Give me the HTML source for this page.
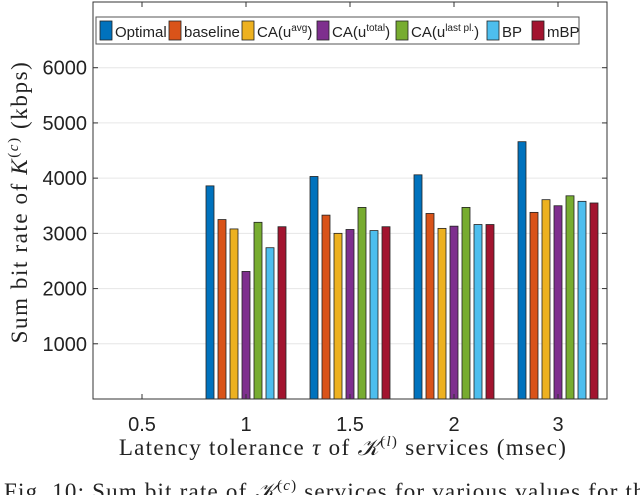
<!DOCTYPE html>
<html><head><meta charset="utf-8"><style>
html,body{margin:0;padding:0;background:#fff;width:640px;height:495px;overflow:hidden}
text{font-family:"Liberation Sans",sans-serif}
.serif{font-family:"Liberation Serif",serif}
</style></head><body>
<svg id="chart" width="640" height="495" xmlns="http://www.w3.org/2000/svg">
<g id="grid"></g>
<g id="bars"></g>
<g id="axes"></g>
<g id="legend"></g>
<text class="serif" font-size="23" letter-spacing="1.6" fill="#222" text-anchor="middle" transform="translate(27,202) rotate(-90)">Sum bit rate of <tspan font-style="italic">K</tspan><tspan font-size="15" dy="-9">(<tspan font-style="italic">c</tspan>)</tspan><tspan dy="9"> (kbps)</tspan></text>
<text class="serif" font-size="23" letter-spacing="1.3" fill="#222" text-anchor="middle" x="343" y="455">Latency tolerance <tspan font-style="italic">τ</tspan> of <tspan font-style="italic">𝒦</tspan><tspan font-size="15" dy="-9">(<tspan font-style="italic">l</tspan>)</tspan><tspan dy="9"> services (msec)</tspan></text>
<text class="serif" font-size="23" letter-spacing="1.2" fill="#222" x="4" y="499">Fig. 10: Sum bit rate of <tspan font-style="italic">𝒦</tspan><tspan font-size="15" dy="-9">(<tspan font-style="italic">c</tspan>)</tspan><tspan dy="9"> services for various values for the</tspan></text>
</svg>
<script>
const categories=["0.5","1","1.5","2","3"];
const seriesNames=["Optimal","baseline","CA(u^avg)","CA(u^total)","CA(u^last pl.)","BP","mBP"];
const optimal=[0,3860,4030,4060,4660];
const baseline=[0,3250,3330,3360,3380];
const caAvg=[0,3080,3000,3090,3610];
const caTotal=[0,2310,3070,3130,3500];
const caLast=[0,3200,3470,3470,3680];
const bp=[0,2740,3050,3160,3580];
const mbp=[0,3120,3120,3160,3550];
const yTicks=[1000,2000,3000,4000,5000,6000];
const series=[optimal,baseline,caAvg,caTotal,caLast,bp,mbp];
const colors=["#0072BD","#D95319","#EDB120","#7E2F8E","#77AC30","#4DBEEE","#A2142F"];
const NS="http://www.w3.org/2000/svg";
const L=93,R=607,T=2,B=399,yMax=7190;
const xS=i=>142+i*104;
const yS=v=>B-(v/yMax)*(B-T);
function mk(tag,attrs,parent){const e=document.createElementNS(NS,tag);for(const k in attrs)e.setAttribute(k,attrs[k]);parent.appendChild(e);return e;}
const grid=document.getElementById('grid'),bars=document.getElementById('bars'),axes=document.getElementById('axes'),legend=document.getElementById('legend');
yTicks.forEach(v=>{
 const g=mk('line',{x1:L,x2:R,y1:yS(v),y2:yS(v),stroke:'#e6e6e6','stroke-width':1},grid);
 
 
 const t=mk('text',{x:L-6,y:yS(v)+7,'font-size':20,'text-anchor':'end',fill:'#222'},axes);
 t.textContent=v;
 
 
 mk('line',{x1:L,x2:L+5,y1:yS(v),y2:yS(v),stroke:'#333'},axes);
 mk('line',{x1:R,x2:R-5,y1:yS(v),y2:yS(v),stroke:'#333'},axes);
});
const pitch=12,bw=8;
categories.forEach((c,i)=>{
 series.forEach((s,j)=>{
  const v=s[i];if(!v)return;
  const x=xS(i)+(j-3)*pitch-bw/2;
  const r=mk('rect',{x:x,y:yS(v),width:bw,height:B-yS(v),fill:colors[j],stroke:'#222','stroke-width':0.8},bars);
  
  
 });
 const t=mk('text',{x:xS(i),y:431,'font-size':20,'text-anchor':'middle',fill:'#222'},axes);
 t.textContent=c;
 
 
 mk('line',{x1:xS(i),x2:xS(i),y1:B,y2:B-5,stroke:'#333'},axes);
 mk('line',{x1:xS(i),x2:xS(i),y1:T,y2:T+5,stroke:'#333'},axes);
});
mk('rect',{x:L,y:T,width:R-L,height:B-T,fill:'none',stroke:'#333','stroke-width':1},axes);
const lb=mk('rect',{x:96,y:17,width:483,height:27,fill:'#fff',stroke:'#555','stroke-width':1},legend);


const labels=[["Optimal"],["baseline"],["CA(u","avg",")"],["CA(u","total",")"],["CA(u","last pl.",")"],["BP"],["mBP"]];
const lx=[100,169,242,317,396,487,532];
labels.forEach((lab,j)=>{
 const sw=mk('rect',{x:lx[j],y:21,width:12,height:19,fill:colors[j],stroke:'#222','stroke-width':0.8},legend);
 
 
 const t=mk('text',{x:lx[j]+15,y:37,'font-size':15,fill:'#222'},legend);
 
 
 const a=document.createElementNS(NS,'tspan');a.textContent=lab[0];t.appendChild(a);
 if(lab.length>1){
  const b=mk('tspan',{'font-size':10,dy:-6},t);b.textContent=lab[1];
  const d=mk('tspan',{dy:6},t);d.textContent=lab[2];
 }
});
</script>
</body></html>
